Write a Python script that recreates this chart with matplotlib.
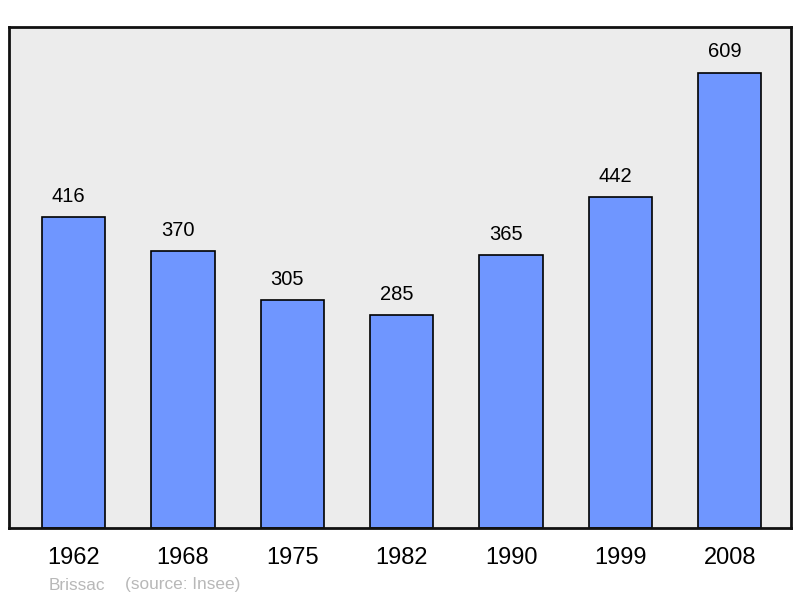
#!/usr/bin/env python3

import matplotlib
matplotlib.use("Agg")
from matplotlib import pyplot as plt

years = ["1962", "1968", "1975", "1982", "1990", "1999", "2008"]
population = [416, 370, 305, 285, 365, 442, 609]
town = "Brissac"
source = "(source: Insee)"

plt.rcParams["font.family"] = ["Liberation Sans", "DejaVu Sans"]

fig = plt.figure(figsize=(8, 5.98), dpi=100)
ax = fig.add_axes([9 / 800, 1 - 528 / 598, 782 / 800, 501 / 598])
ax.set_facecolor("#ececec")

x = range(len(years))
ax.bar(x, population, width=0.58, color="#6f96ff", edgecolor="black",
       linewidth=1.2, zorder=2)

# labels sit a bit left of the bar centre, like the original
for xi, val in zip(x, population):
    ax.annotate(str(val), (xi, val), xytext=(-3.5, 15),
                textcoords="offset points",
                ha="center", va="center", fontsize=14.5)

ax.set_xlim(-0.59, 6.56)
ax.set_ylim(0, max(population) * 1.1)
ax.set_xticks(list(x))
ax.set_xticklabels(years, fontsize=17)
ax.tick_params(axis="x", length=0, pad=13.5)
ax.set_yticks([])

for sp in ax.spines.values():
    sp.set_linewidth(2)
    sp.set_color("#111111")

fig.text(49 / 800, 1 - 585 / 598, town, color="#b8b8b8", fontsize=12.4,
         va="center")
fig.text(125 / 800, 1 - 585 / 598, source, color="#b8b8b8", fontsize=12.4,
         va="center")

fig.savefig("out.png", dpi=100)
